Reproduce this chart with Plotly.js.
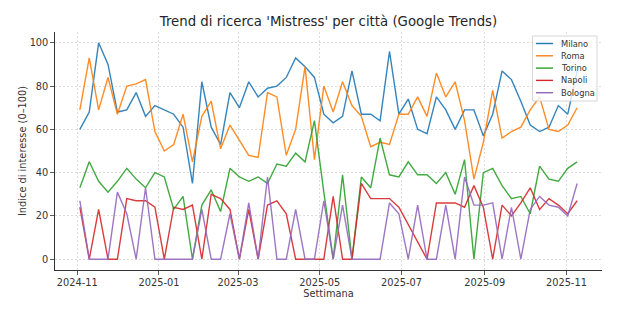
<!DOCTYPE html>
<html>
<head>
<meta charset="utf-8">
<script src="https://cdn.plot.ly/plotly-3.0.1.min.js"></script>
<style>
  html, body { margin: 0; padding: 0; background: #ffffff; }
  #chart { width: 640px; height: 310px; }
</style>
</head>
<body>
<div id="chart"></div>
<script>
// ---- Data (weekly Google Trends index) ----
const weeks = [
  '2024-11-03','2024-11-10','2024-11-17','2024-11-24','2024-12-01','2024-12-08','2024-12-15','2024-12-22','2024-12-29',
  '2025-01-05','2025-01-12','2025-01-19','2025-01-26','2025-02-02','2025-02-09','2025-02-16','2025-02-23',
  '2025-03-02','2025-03-09','2025-03-16','2025-03-23','2025-03-30','2025-04-06','2025-04-13','2025-04-20','2025-04-27',
  '2025-05-04','2025-05-11','2025-05-18','2025-05-25','2025-06-01','2025-06-08','2025-06-15','2025-06-22','2025-06-29',
  '2025-07-06','2025-07-13','2025-07-20','2025-07-27','2025-08-03','2025-08-10','2025-08-17','2025-08-24','2025-08-31',
  '2025-09-07','2025-09-14','2025-09-21','2025-09-28','2025-10-05','2025-10-12','2025-10-19','2025-10-26',
  '2025-11-02','2025-11-09'
];

const milano = [60,68,100,90,68,69,77,66,71,69, 67,61,35,82,61,53,77,70,82,75,
                79,80,84,93,89,84,67,63,66,87, 67,67,64,96,67,74,60,58,75,69,
                60,69,69,57,67,87,83,73,62,59, 61,71,67,87];
const roma   = [69,93,69,84,67,80,81,83,59,50, 53,67,45,66,73,51,62,55,48,47,
                77,75,48,60,89,46,80,68,82,71, 66,52,54,53,67,67,75,66,86,75,
                82,64,37,54,78,56,59,61,69,75, 60,59,62,70];
const torino = [33,45,36,31,36,42,37,33,40,38, 23,29,0,25,32,22,42,38,36,38,
                35,44,43,49,45,64,31,0,39,0, 38,33,56,39,38,45,39,39,35,40,
                30,46,0,40,42,34,28,29,21,43, 37,36,42,45];
const napoli = [24,0,23,0,0,28,27,27,24,0, 24,23,25,0,30,28,23,0,23,0,
                25,27,21,0,0,0,0,29,0,0, 35,28,28,28,24,16,8,0,26,26,
                26,24,34,24,0,25,20,26,33,23, 28,25,21,27];
const bologna = [27,0,0,0,31,21,0,33,0,0, 0,0,0,23,0,0,21,0,26,0,
                 38,0,0,23,0,0,27,0,25,0, 0,0,0,26,21,0,25,0,0,25,
                 0,38,25,25,26,0,24,0,23,29, 25,24,20,35];

const cities = ['Milano','Roma','Torino','Napoli','Bologna'];
const seriesValues = [milano, roma, torino, napoli, bologna];
const colors = ['#1f77b4','#ff7f0e','#2ca02c','#d62728','#9467bd'];

const xTickVals = ['2024-11-01','2025-01-01','2025-03-01','2025-05-01','2025-07-01','2025-09-01','2025-11-01'];
const xTickText = ['2024-11','2025-01','2025-03','2025-05','2025-07','2025-09','2025-11'];
const yTickVals = [0,20,40,60,80,100];

const titleText = "Trend di ricerca 'Mistress' per città (Google Trends)";
const xTitle = 'Settimana';
const yTitle = 'Indice di interesse (0–100)';

// ---- Layout geometry ----
const W = 640, H = 310;
const M = {l: 55, r: 38, t: 32, b: 40};
const plotW = W - M.l - M.r, plotH = H - M.t - M.b;
const px = x => (x - M.l) / plotW;
const py = y => 1 - (y - M.t) / plotH;

const FONT = 'DejaVu Sans, sans-serif';
const TXT = '#333333';

const traces = cities.map((name, k) => ({
  type: 'scatter',
  mode: 'lines',
  name: name,
  x: weeks,
  y: seriesValues[k],
  line: {color: colors[k], width: 1.4},
  opacity: 0.9,
  hoverinfo: 'skip',
  showlegend: false
}));

// custom matplotlib-like legend
const shapes = [{
  type: 'rect', xref: 'paper', yref: 'paper', layer: 'above',
  x0: px(532.5), x1: px(597), y0: py(101), y1: py(36),
  fillcolor: 'rgba(255,255,255,0.8)', line: {color: '#cccccc', width: 0.8}
}];
const annotations = [];
cities.forEach((name, k) => {
  const yy = 43.5 + 12.3 * k;
  shapes.push({
    type: 'line', xref: 'paper', yref: 'paper', layer: 'above',
    x0: px(536), x1: px(553), y0: py(yy), y1: py(yy),
    line: {color: colors[k], width: 1.4}
  });
  annotations.push({
    xref: 'paper', yref: 'paper', x: px(559), y: py(yy),
    xanchor: 'left', yanchor: 'middle', showarrow: false,
    text: name, font: {family: FONT, size: 8.3, color: TXT}
  });
});

const layout = {
  width: W, height: H,
  margin: M,
  paper_bgcolor: '#ffffff',
  plot_bgcolor: '#ffffff',
  font: {family: FONT, size: 9.8, color: TXT},
  title: {
    text: titleText,
    font: {family: FONT, size: 13.3, color: '#262626'},
    xref: 'paper', x: 0.5, xanchor: 'center',
    yref: 'container', y: 1 - 21 / H, yanchor: 'middle'
  },
  xaxis: {
    type: 'date',
    range: ['2024-10-15 10:48', '2025-11-27 13:12'],
    tickmode: 'array', tickvals: xTickVals, ticktext: xTickText,
    ticks: 'outside', ticklen: 3.5, tickwidth: 0.8, tickcolor: '#333333',
    showline: true, linecolor: '#333333', linewidth: 1.2, mirror: false,
    showgrid: true, gridcolor: '#d5d5d5', gridwidth: 0.8, griddash: '2px,2px',
    zeroline: false,
    tickfont: {family: FONT, size: 9.8, color: TXT},
    title: {text: xTitle, font: {family: FONT, size: 9.8, color: TXT}, standoff: 0},
    automargin: false, fixedrange: true
  },
  yaxis: {
    range: [-5, 105],
    tickmode: 'array', tickvals: yTickVals,
    ticks: 'outside', ticklen: 3.5, tickwidth: 0.8, tickcolor: '#333333',
    showline: true, linecolor: '#333333', linewidth: 1.2, mirror: false,
    showgrid: true, gridcolor: '#d5d5d5', gridwidth: 0.8, griddash: '2px,2px',
    zeroline: false,
    tickfont: {family: FONT, size: 9.8, color: TXT},
    title: {text: yTitle, font: {family: FONT, size: 9.8, color: TXT}, standoff: 1},
    automargin: false, fixedrange: true
  },
  shapes: shapes,
  annotations: annotations,
  showlegend: false
};

Plotly.newPlot('chart', traces, layout, {displayModeBar: false, staticPlot: true});
</script>
</body>
</html>
